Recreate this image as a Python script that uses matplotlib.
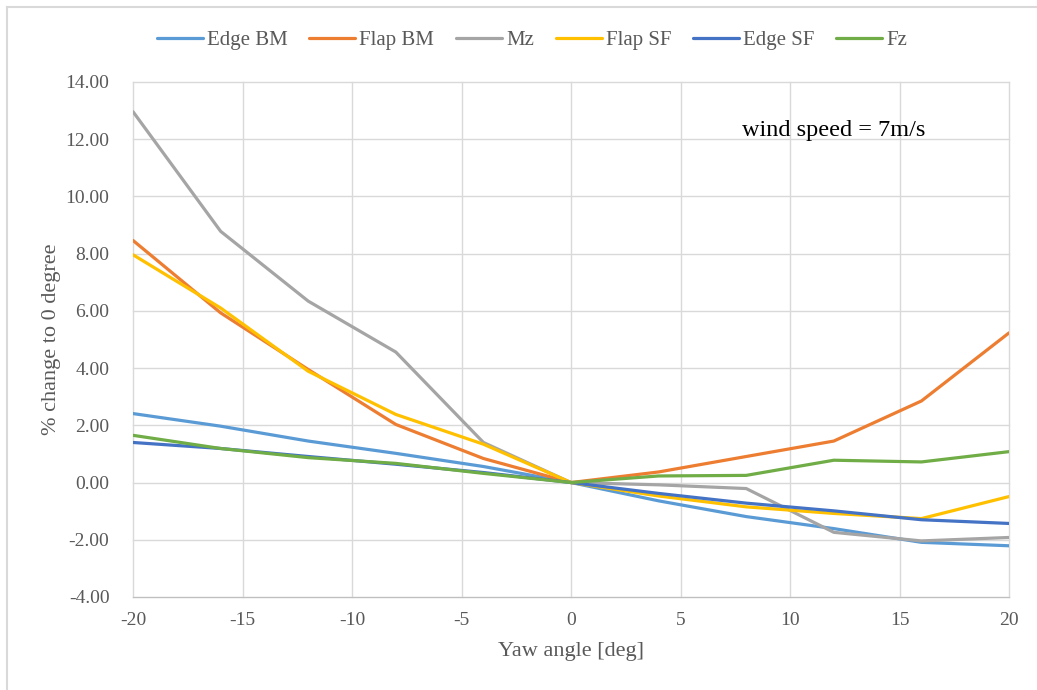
import numpy as np
import matplotlib
matplotlib.use("Agg")
import matplotlib.pyplot as plt
from matplotlib.lines import Line2D

plt.rcParams['font.family'] = ['Liberation Serif', 'DejaVu Serif']
plt.rcParams['axes.unicode_minus'] = False

yaw = [-20, -16, -12, -8, -4, 0, 4, 8, 12, 16, 20]

edge_bm = [2.41, 1.97, 1.45, 1.02, 0.56, 0.0, -0.64, -1.19, -1.61, -2.09, -2.21]
flap_bm = [8.46, 5.93, 3.95, 2.03, 0.84, 0.0, 0.37, 0.91, 1.45, 2.85, 5.23]
mz = [12.96, 8.78, 6.34, 4.56, 1.40, 0.0, -0.08, -0.21, -1.74, -2.04, -1.92]
flap_sf = [7.96, 6.10, 3.89, 2.38, 1.34, 0.0, -0.47, -0.85, -1.08, -1.26, -0.49]
edge_sf = [1.40, 1.19, 0.91, 0.64, 0.35, 0.0, -0.38, -0.72, -0.99, -1.30, -1.43]
fz = [1.65, 1.19, 0.87, 0.67, 0.32, 0.0, 0.23, 0.25, 0.78, 0.72, 1.08]

series = [("Edge BM", edge_bm, "#5B9BD5"),
          ("Flap BM", flap_bm, "#ED7D31"),
          ("Mz", mz, "#A5A5A5"),
          ("Flap SF", flap_sf, "#FFC000"),
          ("Edge SF", edge_sf, "#4472C4"),
          ("Fz", fz, "#70AD47")]

fig = plt.figure(figsize=(10.37, 6.90), dpi=100)
ax = fig.add_axes([0.1283, 0.1348, 0.8447, 0.7464])

for name, vals, col in series:
    ax.plot(yaw, vals, color=col, lw=2.3, label=name, solid_capstyle='round')

ax.set_xlim(-20, 20)
ax.set_ylim(-4, 14)
ax.set_xticks(np.arange(-20, 21, 5))
ax.set_yticks(np.arange(-4, 14.1, 2))
ax.set_yticklabels(["%.2f" % v for v in np.arange(-4, 14.1, 2)])
ax.grid(True, color="#D9D9D9", lw=1)
for gl in ax.get_xgridlines() + ax.get_ygridlines():
    gl.set_clip_on(False)
ax.set_axisbelow(True)
for s in ["top", "right", "left"]:
    ax.spines[s].set_visible(False)
ax.spines["bottom"].set_color("#BFBFBF")
ax.tick_params(length=0, labelsize=14, colors="#595959")
ax.tick_params(axis="y", pad=17)
ax.tick_params(axis="x", pad=11)

ax.set_xlabel("Yaw angle [deg]", fontsize=16, color="#595959", labelpad=9)
ax.set_ylabel("% change to 0 degree", fontsize=16, color="#595959", labelpad=3)

ax.text(7.8, 12.3, "wind speed = 7m/s", fontsize=17.5, va="center", ha="left")

fig.legend(loc="center", bbox_to_anchor=(0.513, 0.942), ncol=6, frameon=False,
           fontsize=15, handlelength=2.2, columnspacing=1.05, handletextpad=0.2,
           labelcolor="#595959")

# chart area border (only top and left edges visible)
fig.add_artist(Line2D([0.0068, 1.0], [0.9903, 0.9903], transform=fig.transFigure,
                      color="#D9D9D9", lw=1.5))
fig.add_artist(Line2D([0.0068, 0.0068], [0.0, 0.9903], transform=fig.transFigure,
                      color="#D9D9D9", lw=1.5))

fig.savefig("out.png", dpi=100)
